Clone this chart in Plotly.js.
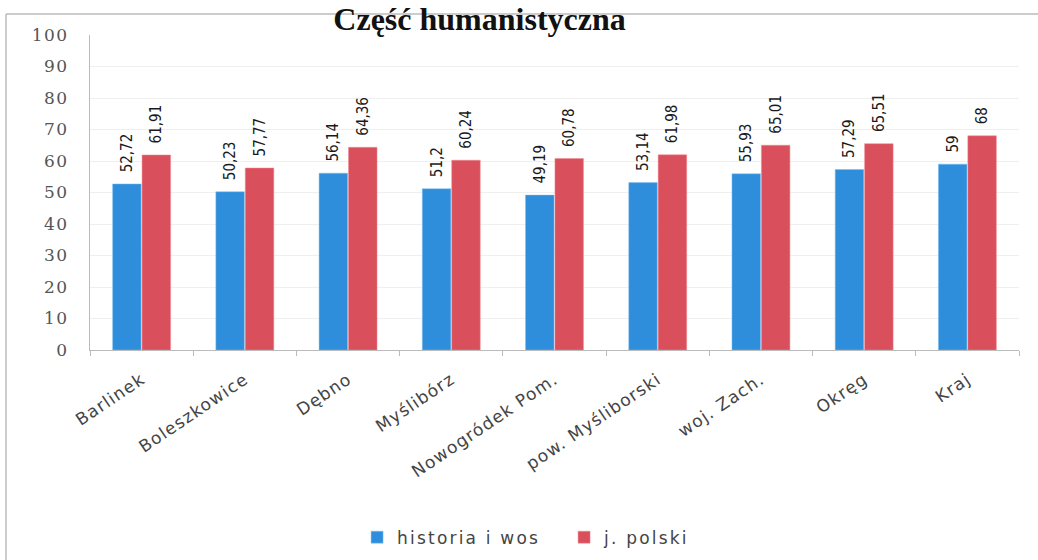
<!DOCTYPE html>
<html>
<head>
<meta charset="utf-8">
<script src="https://cdn.plot.ly/plotly-3.0.1.min.js"></script>
<style>
html,body{margin:0;padding:0;background:#fff;}
#chart{width:1038px;height:560px;}
#chart .xtick text{letter-spacing:1.2px;}
#chart .ytick text{letter-spacing:1.5px;}
#chart .legendtext{letter-spacing:2.2px;}
</style>
</head>
<body>
<div id="chart"></div>
<script>
const categories = ["Barlinek", "Boleszkowice", "Dębno", "Myślibórz", "Nowogródek Pom.", "pow. Myśliborski", "woj. Zach.", "Okręg", "Kraj"];
const historiaWos = [52.72, 50.23, 56.14, 51.2, 49.19, 53.14, 55.93, 57.29, 59];
const jPolski = [61.91, 57.77, 64.36, 60.24, 60.78, 61.98, 65.01, 65.51, 68];
const seriesNames = ["historia i wos", "j. polski"];
const yTicks = [0, 10, 20, 30, 40, 50, 60, 70, 80, 90, 100];

const labelFont = {family: "DejaVu Sans Condensed, Liberation Sans Narrow, sans-serif", size: 15, color: "#1a1a1a"};

const traces = [
  {type: "bar", name: seriesNames[0], x: categories, y: historiaWos,
   marker: {color: "#2E8EDB", line: {color: "#7FC0F0", width: 0.5}},
   texttemplate: "\u00a0\u00a0%{y}", textposition: "outside", textangle: -90, cliponaxis: false,
   constraintext: "none", textfont: labelFont, hoverinfo: "x+y"},
  {type: "bar", name: seriesNames[1], x: categories, y: jPolski,
   marker: {color: "#D9505C", line: {color: "#F08A92", width: 0.5}},
   texttemplate: "\u00a0\u00a0%{y}", textposition: "outside", textangle: -90, cliponaxis: false,
   constraintext: "none", textfont: labelFont, hoverinfo: "x+y"}
];

const layout = {
  width: 1038, height: 560,
  margin: {l: 90, r: 19, t: 35, b: 210, autoexpand: false},
  paper_bgcolor: "#fff", plot_bgcolor: "#fff",
  separators: ", ",
  title: {text: "<b>Część humanistyczna</b>", yref: "container", y: 0.987, yanchor: "top",
          x: 0.462, xanchor: "center",
          font: {family: "Liberation Serif, Times New Roman, serif", size: 32, color: "#111"}},
  barmode: "group", bargap: 0.43, bargroupgap: 0.03,
  showlegend: true,
  legend: {orientation: "h", xref: "container", x: 0.344, xanchor: "left",
           yref: "container", y: 0.04, yanchor: "middle",
           font: {family: "DejaVu Sans, sans-serif", size: 17, color: "#444"},
           itemwidth: 30, entrywidth: 162, entrywidthmode: "pixels"},
  xaxis: {type: "category", showgrid: false, showline: true, linecolor: "#bbb", linewidth: 1,
          ticks: "outside", tickson: "boundaries", ticklen: 5, tickcolor: "#bbb",
          ticklabelstandoff: 12,
          tickangle: -34, tickfont: {family: "DejaVu Sans, sans-serif", size: 17, color: "#444"}},
  yaxis: {range: [0, 100], tickvals: yTicks, showgrid: true, gridcolor: "#efefef",
          showline: true, linecolor: "#bbb", linewidth: 1, zeroline: false,
          ticks: "", ticklabelstandoff: 17,
          tickfont: {family: "DejaVu Serif, Liberation Serif, serif", size: 17, color: "#555"}},
  shapes: [
    {type: "line", xref: "paper", yref: "paper", x0: -0.0904, x1: -0.0904, y0: -0.67, y1: 1.0667,
     line: {color: "#bbb", width: 1.5}},
    {type: "line", xref: "paper", yref: "paper", x0: -0.0904, x1: 1.04, y0: 1.0667, y1: 1.0667,
     line: {color: "#bbb", width: 1.5}}
  ]
};

Plotly.newPlot("chart", traces, layout, {displayModeBar: false, staticPlot: true});
</script>
</body>
</html>
